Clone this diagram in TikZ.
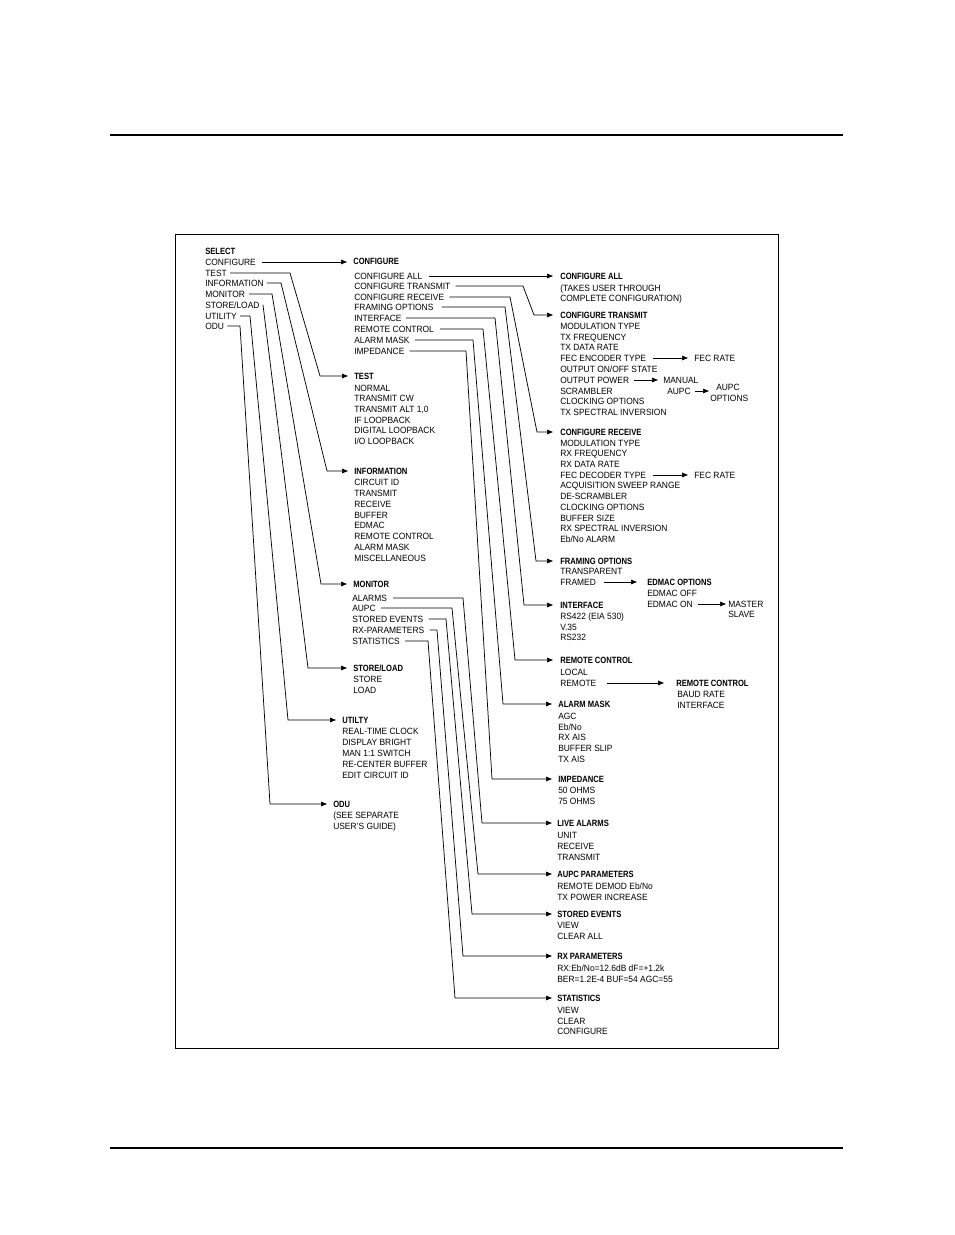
\documentclass[tikz,border=0pt]{standalone}
\usepackage{fontspec}
\setmainfont[FakeStretch=0.93]{Liberation Sans}
\newfontfamily\hdfont[FakeStretch=0.84]{Liberation Sans Bold}
\usetikzlibrary{arrows.meta,calc}
\begin{document}
\begin{tikzpicture}[x=0.75pt,y=-0.75pt,
  every node/.style={anchor=west,inner sep=0pt,font=\fontsize{6.8}{8}\selectfont,text height=4.9pt,text depth=0pt},
  hd/.style={font=\fontsize{6.8}{8}\hdfont},
  ln/.style={line width=0.55pt},
  ar/.style={line width=0.55pt,-{Triangle[length=4.5pt,width=3.4pt]}}]
\useasboundingbox (0,0) rectangle (954,1235);
\draw[line width=0.8pt] (110,135) -- (843,135);
\draw[line width=0.8pt] (110,1148) -- (843,1148);
\draw[line width=0.6pt] (175,234) rectangle (778,1048);

% SELECT
\node[hd] (select) at (205,251) {SELECT};
\node (s1) at (205,262) {CONFIGURE};
\node (s2) at (205,273) {TEST};
\node (s3) at (205,283) {INFORMATION};
\node (s4) at (205,294) {MONITOR};
\node (s5) at (205,305) {STORE/LOAD};
\node (s6) at (205,316) {UTILITY};
\node (s7) at (205,326) {ODU};

% CONFIGURE
\node[hd] (cfg) at (353,261) {CONFIGURE};
\node (c1) at (354,276) {CONFIGURE ALL};
\node (c2) at (354,286) {CONFIGURE TRANSMIT};
\node (c3) at (354,297) {CONFIGURE RECEIVE};
\node (c4) at (354,307) {FRAMING OPTIONS};
\node (c5) at (354,318) {INTERFACE};
\node (c6) at (354,329) {REMOTE CONTROL};
\node (c7) at (354,340) {ALARM MASK};
\node (c8) at (354,351) {IMPEDANCE};

% TEST
\node[hd] (test) at (354,376) {TEST};
\node at (354,388) {NORMAL};
\node at (354,398) {TRANSMIT CW};
\node at (354,409) {TRANSMIT ALT 1,0};
\node at (354,420) {IF LOOPBACK};
\node at (354,430) {DIGITAL LOOPBACK};
\node at (354,441) {I/O LOOPBACK};

% INFORMATION
\node[hd] (info) at (354,471) {INFORMATION};
\node at (354,482) {CIRCUIT ID};
\node at (354,493) {TRANSMIT};
\node at (354,504) {RECEIVE};
\node at (354,515) {BUFFER};
\node at (354,525) {EDMAC};
\node at (354,536) {REMOTE CONTROL};
\node at (354,547) {ALARM MASK};
\node at (354,558) {MISCELLANEOUS};

% MONITOR
\node[hd] (mon) at (353,584) {MONITOR};
\node (m1) at (352,598) {ALARMS};
\node (m2) at (352,608) {AUPC};
\node (m3) at (352,619) {STORED EVENTS};
\node (m4) at (352,630) {RX-PARAMETERS};
\node (m5) at (352,641) {STATISTICS};

% STORE/LOAD
\node[hd] (store) at (353,668) {STORE/LOAD};
\node at (353,679) {STORE};
\node at (353,690) {LOAD};

% UTILITY
\node[hd] (util) at (342,720) {UTILTY};
\node at (342,731) {REAL-TIME CLOCK};
\node at (342,742) {DISPLAY BRIGHT};
\node at (342,753) {MAN 1:1 SWITCH};
\node at (342,764) {RE-CENTER BUFFER};
\node at (342,775) {EDIT CIRCUIT ID};

% ODU
\node[hd] (odu) at (333,804) {ODU};
\node at (333,815) {(SEE SEPARATE};
\node at (333,826) {USER'S GUIDE)};

% CONFIGURE ALL
\node[hd] (call) at (560,276) {CONFIGURE ALL};
\node at (560,288) {(TAKES USER THROUGH};
\node at (560,298) {COMPLETE CONFIGURATION)};

% CONFIGURE TRANSMIT
\node[hd] (ctx) at (560,315) {CONFIGURE TRANSMIT};
\node at (560,326) {MODULATION TYPE};
\node at (560,337) {TX FREQUENCY};
\node at (560,347) {TX DATA RATE};
\node (fecenc) at (560,358) {FEC ENCODER TYPE};
\node at (560,369) {OUTPUT ON/OFF STATE};
\node (opow) at (560,380) {OUTPUT POWER};
\node at (560,391) {SCRAMBLER};
\node at (560,401) {CLOCKING OPTIONS};
\node at (560,412) {TX SPECTRAL INVERSION};
\node (fecr1) at (694,358) {FEC RATE};
\node (manual) at (663,380) {MANUAL};
\node (aupc1) at (667,391) {AUPC};
\node (aupc2) at (716,387) {AUPC};
\node (aopt) at (710,398) {OPTIONS};

% CONFIGURE RECEIVE
\node[hd] (crx) at (560,432) {CONFIGURE RECEIVE};
\node at (560,443) {MODULATION TYPE};
\node at (560,453) {RX FREQUENCY};
\node at (560,464) {RX DATA RATE};
\node (fecdec) at (560,475) {FEC DECODER TYPE};
\node at (560,485) {ACQUISITION SWEEP RANGE};
\node at (560,496) {DE-SCRAMBLER};
\node at (560,507) {CLOCKING OPTIONS};
\node at (560,518) {BUFFER SIZE};
\node at (560,528) {RX SPECTRAL INVERSION};
\node at (560,539) {Eb/No ALARM};
\node (fecr2) at (694,475) {FEC RATE};

% FRAMING OPTIONS
\node[hd] (frm) at (560,561) {FRAMING OPTIONS};
\node at (560,571) {TRANSPARENT};
\node (framed) at (560,582) {FRAMED};
\node[hd] (edm) at (647,582) {EDMAC OPTIONS};
\node at (647,593) {EDMAC OFF};
\node (edmon) at (647,604) {EDMAC ON};
\node (master) at (728,604) {MASTER};
\node at (728,614) {SLAVE};

% INTERFACE
\node[hd] (intf) at (560,605) {INTERFACE};
\node at (560,616) {RS422 (EIA 530)};
\node at (560,627) {V.35};
\node at (560,637) {RS232};

% REMOTE CONTROL
\node[hd] (rc) at (560,660) {REMOTE CONTROL};
\node at (560,672) {LOCAL};
\node (remote) at (560,683) {REMOTE};
\node[hd] (rc2) at (676,683) {REMOTE CONTROL};
\node at (677,694) {BAUD RATE};
\node at (677,705) {INTERFACE};

% ALARM MASK
\node[hd] (am) at (558,704) {ALARM MASK};
\node at (558,716) {AGC};
\node at (558,727) {Eb/No};
\node at (558,737) {RX AIS};
\node at (558,748) {BUFFER SLIP};
\node at (558,759) {TX AIS};

% IMPEDANCE
\node[hd] (imp) at (558,779) {IMPEDANCE};
\node at (558,790) {50 OHMS};
\node at (558,801) {75 OHMS};

% LIVE ALARMS
\node[hd] (la) at (557,823) {LIVE ALARMS};
\node at (557,835) {UNIT};
\node at (557,846) {RECEIVE};
\node at (557,857) {TRANSMIT};

% AUPC PARAMETERS
\node[hd] (ap) at (557,874) {AUPC PARAMETERS};
\node at (557,886) {REMOTE DEMOD Eb/No};
\node at (557,897) {TX POWER INCREASE};

% STORED EVENTS
\node[hd] (se) at (557,914) {STORED EVENTS};
\node at (557,925) {VIEW};
\node at (557,936) {CLEAR ALL};

% RX PARAMETERS
\node[hd] (rxp) at (557,956) {RX PARAMETERS};
\node at (557,968) {RX:Eb/No=12.6dB dF=+1.2k};
\node at (557,979) {BER=1.2E-4 BUF=54 AGC=55};

% STATISTICS
\node[hd] (stat) at (557,998) {STATISTICS};
\node at (557,1010) {VIEW};
\node at (557,1021) {CLEAR};
\node at (557,1031) {CONFIGURE};

% ---- connectors from SELECT
\draw[ar] ($(s1.east)+(6,0)$) -- ($(s1.east -| cfg.west)+(-6,0)$);
\draw[ar] ($(s2.east)+(3,0)$) -- (290,273) -- (320,376) -- ($(test.west)+(-6,0)$);
\draw[ar] ($(s3.east)+(3,0)$) -- (281,283) -- (327,471) -- ($(info.west)+(-6,0)$);
\draw[ar] ($(s4.east)+(4,0)$) -- (272,294) -- (321,584) -- ($(mon.west)+(-6,0)$);
\draw[ar] ($(s5.east)+(3,0)$) -- (263,305) -- (308,668) -- ($(store.west)+(-6,0)$);
\draw[ar] ($(s6.east)+(3,0)$) -- (250,316) -- (288,720) -- ($(util.west)+(-6,0)$);
\draw[ar] ($(s7.east)+(3,0)$) -- (240,326) -- (270,804) -- ($(odu.west)+(-6,0)$);

% ---- connectors from CONFIGURE
\draw[ar] ($(c1.east)+(7,0)$) -- ($(call.west)+(-7,0)$);
\draw[ar] ($(c2.east)+(5,0)$) -- (523,286) -- (534,315) -- ($(ctx.west)+(-7,0)$);
\draw[ar] ($(c3.east)+(5,0)$) -- (510,297) -- (537,432) -- ($(crx.west)+(-7,0)$);
\draw[ar] ($(c4.east)+(8,0)$) -- (505,307) -- (536,561) -- ($(frm.west)+(-7,0)$);
\draw[ar] ($(c5.east)+(4,0)$) -- (495,318) -- (524,605) -- ($(intf.west)+(-7,0)$);
\draw[ar] ($(c6.east)+(6,0)$) -- (483,329) -- (515,660) -- ($(rc.west)+(-7,0)$);
\draw[ar] ($(c7.east)+(5,0)$) -- (473,340) -- (503,704) -- ($(am.west)+(-6,0)$);
\draw[ar] ($(c8.east)+(5,0)$) -- (466,351) -- (492,779) -- ($(imp.west)+(-6,0)$);

% ---- connectors from MONITOR
\draw[ar] ($(m1.east)+(6,0)$) -- (463,598) -- (482,823) -- ($(la.west)+(-5,0)$);
\draw[ar] ($(m2.east)+(5,0)$) -- (452,608) -- (478,874) -- ($(ap.west)+(-5,0)$);
\draw[ar] ($(m3.east)+(5,0)$) -- (446,619) -- (472,914) -- ($(se.west)+(-5,0)$);
\draw[ar] ($(m4.east)+(5,0)$) -- (437,630) -- (463,956) -- ($(rxp.west)+(-5,0)$);
\draw[ar] ($(m5.east)+(5,0)$) -- (428,641) -- (455,998) -- ($(stat.west)+(-5,0)$);

% ---- side arrows
\draw[ar] ($(fecenc.east)+(7,0)$) -- ($(fecr1.west)+(-6,0)$);
\draw[ar] ($(opow.east)+(5,0)$) -- ($(manual.west)+(-5,0)$);
\draw[ar] ($(aupc1.east)+(4,0)$) -- ($(aupc1.east -| aopt.west)+(-1,0)$);
\draw[ar] ($(fecdec.east)+(7,0)$) -- ($(fecr2.west)+(-6,0)$);
\draw[ar] ($(framed.east)+(8,0)$) -- ($(edm.west)+(-10,0)$);
\draw[ar] ($(edmon.east)+(5,0)$) -- ($(master.west)+(-2,0)$);
\draw[ar] ($(remote.east)+(10,0)$) -- ($(rc2.west)+(-12,0)$);
\end{tikzpicture}
\end{document}
